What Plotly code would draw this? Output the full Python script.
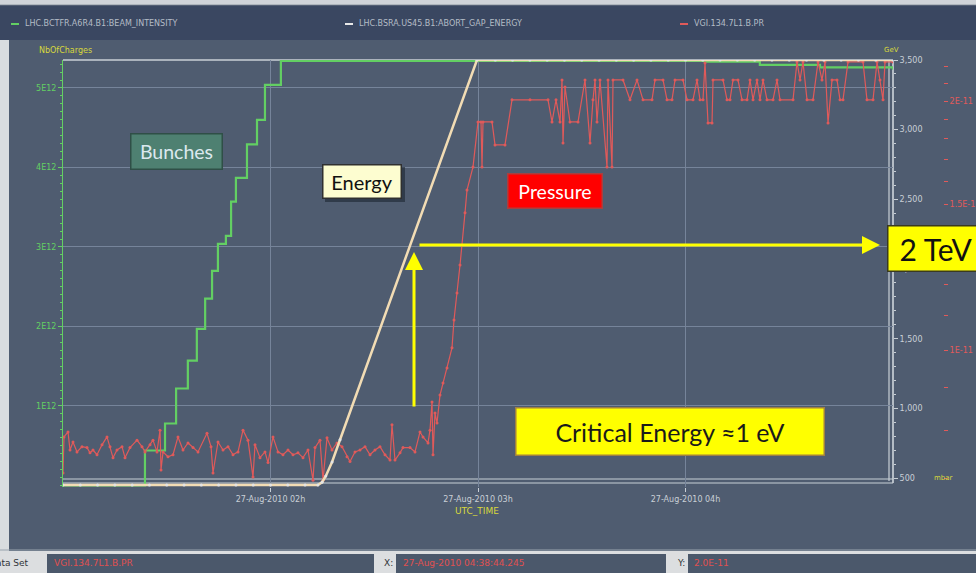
import pandas as pd
import plotly.graph_objects as go

# ---------------- data ----------------
START = "2010-08-27 01:00:00"
END = "2010-08-27 05:00:00"
x_tick_times = ["2010-08-27 02:00:00", "2010-08-27 03:00:00", "2010-08-27 04:00:00"]

# beam intensity (charges, units of 1E12), minutes after 01:00
intensity_min = [0, 23.7, 29.5, 32.7, 36.1, 38.7, 41.1, 43.1, 44.8, 47.1, 48.6,
                 50.0, 53.2, 56.1, 58.4, 63.0, 119.7, 185.6, 201.5, 218.9, 240.0]
intensity_e12 = [0, 0.44, 0.78, 1.22, 1.57, 1.97, 2.35, 2.70, 3.04, 3.14, 3.57,
                 3.87, 4.29, 4.60, 5.04, 5.34, 5.34, 5.33, 5.29, 5.26, 5.23]

# abort gap energy (GeV)
energy_min = [0, 5, 10, 15, 20, 25, 30, 35, 40, 45, 50, 55, 60, 65, 70,
              73.7, 74.9, 76.0, 77.8, 80.1, 119.7,
              125, 130, 135, 140, 145, 150, 155, 160, 165, 170, 175, 180,
              185, 190, 195, 200, 205, 210, 215, 220, 225, 230, 235, 240]
energy_gev = [450, 450, 450, 450, 450, 450, 450, 450, 450, 450, 450, 450, 450, 450, 450,
              450, 470, 515, 615, 775, 3500,
              3500, 3500, 3500, 3500, 3500, 3500, 3500, 3500, 3500, 3500, 3500, 3500,
              3500, 3500, 3500, 3500, 3500, 3500, 3500, 3500, 3500, 3500, 3500, 3500]

# vacuum pressure (units of 1E-11 mbar)
pressure_min = [
    0, 0.29, 1.45, 2.02, 2.89, 4.05, 5.49, 6.94, 7.81, 8.67,
    9.83, 11.28, 12.72, 13.59, 14.46, 15.61, 17.06, 17.93, 19.37, 21.40,
    22.84, 23.71, 25.16, 26.02, 27.18, 28.05, 28.34, 28.92, 30.36, 31.81,
    33.25, 34.70, 36.15, 37.59, 39.04, 41.64, 42.80, 43.37, 44.82, 46.27,
    47.71, 49.16, 50.60, 52.05, 53.49, 54.94, 55.52, 56.96, 58.41, 59.28,
    60.72, 62.17, 63.61, 65.06, 66.51, 67.95, 69.40, 70.84, 72.29, 72.87,
    74.31, 75.18, 76.34, 77.78, 79.23, 80.68, 82.12, 82.99, 84.43, 85.88,
    87.33, 88.77, 90.22, 91.66, 93.11, 94.56, 95.13, 96.00, 97.45, 98.31,
    100.34, 101.78, 103.23, 104.10, 105.54, 106.12, 106.70, 106.99, 107.57, 108.15,
    109.01, 109.88, 111.04, 112.48, 113.06, 113.93, 114.80, 116.24, 116.82, 118.56,
    120.00, 120.87, 121.16, 121.45, 124.05, 124.92, 127.81, 129.83, 135.04, 140.24,
    141.40, 142.56, 143.71, 144.29, 144.58, 145.16, 146.60, 148.92, 150.94, 152.39,
    153.25, 153.83, 154.41, 155.28, 157.30, 157.59, 158.75, 159.04, 161.93, 163.95,
    165.98, 167.71, 170.32, 171.18, 173.50, 174.65, 176.10, 176.97, 179.28, 180.44,
    182.17, 183.33, 184.20, 185.06, 185.64, 186.51, 187.67, 187.96, 190.85, 192.00,
    192.87, 193.74, 195.18, 196.34, 197.79, 198.65, 199.52, 200.68, 201.54, 202.41,
    203.57, 205.30, 206.46, 207.33, 211.09, 212.24, 213.11, 213.98, 215.14, 216.87,
    218.32, 219.47, 220.34, 221.21, 222.37, 223.81, 224.68, 225.54, 226.99, 231.33,
    232.48, 234.22, 235.38, 236.24, 237.11, 237.69, 240.00]
pressure_e11 = [
    0.710, 0.785, 0.796, 0.757, 0.774, 0.753, 0.764, 0.762, 0.751, 0.757,
    0.747, 0.768, 0.785, 0.764, 0.741, 0.757, 0.764, 0.741, 0.762, 0.778,
    0.764, 0.753, 0.768, 0.778, 0.753, 0.800, 0.716, 0.753, 0.743, 0.747,
    0.785, 0.757, 0.772, 0.762, 0.753, 0.793, 0.764, 0.710, 0.774, 0.757,
    0.764, 0.747, 0.753, 0.800, 0.778, 0.702, 0.768, 0.741, 0.753, 0.731,
    0.785, 0.753, 0.747, 0.757, 0.747, 0.751, 0.741, 0.757, 0.696, 0.762,
    0.778, 0.696, 0.783, 0.757, 0.772, 0.764, 0.743, 0.733, 0.753, 0.757,
    0.764, 0.747, 0.757, 0.764, 0.747, 0.736, 0.812, 0.736, 0.751, 0.762,
    0.762, 0.753, 0.796, 0.785, 0.772, 0.800, 0.865, 0.747, 0.839, 0.816,
    0.882, 0.912, 0.951, 1.006, 1.087, 1.172, 1.267, 1.465, 1.561, 1.665,
    1.887, 1.887, 1.665, 1.887, 1.887, 1.770, 1.770, 2.007, 2.007, 2.007,
    1.887, 2.007, 1.887, 2.121, 1.780, 2.080, 1.887, 1.887, 2.121, 1.780,
    2.007, 2.121, 1.887, 2.121, 1.665, 2.121, 1.665, 2.121, 2.121, 2.007,
    2.121, 2.007, 2.007, 2.121, 2.121, 2.007, 2.007, 2.121, 2.121, 2.007,
    2.007, 2.121, 2.007, 2.007, 2.224, 1.882, 1.882, 2.121, 2.121, 2.007,
    2.007, 2.121, 2.121, 2.007, 2.007, 2.121, 2.007, 2.121, 2.007, 2.121,
    2.007, 2.007, 2.121, 2.007, 2.007, 2.230, 2.121, 2.230, 2.007, 2.007,
    2.230, 2.121, 2.230, 1.882, 2.121, 2.121, 2.007, 2.007, 2.230, 2.230,
    2.007, 2.007, 2.230, 2.121, 2.007, 2.230, 2.230]

left_ticks_e12 = [1, 2, 3, 4, 5]
left_tick_text = ["1E12", "2E12", "3E12", "4E12", "5E12"]
gev_ticks = [500, 1000, 1500, 2000, 2500, 3000, 3500]
gev_tick_text = ["500", "1,000", "1,500", "2,000", "2,500", "3,000", "3,500"]
p_ticks_e11 = [0.7, 0.8, 0.9, 1.0, 1.1, 1.2, 1.3, 1.4, 1.5, 1.6, 1.7, 1.8, 1.9, 2.0, 2.1, 2.2]
p_tick_text = ["", "", "", "1E-11", "", "", "", "", "1.5E-11", "", "", "", "", "2E-11", "", ""]

series_names = ["LHC.BCTFR.A6R4.B1:BEAM_INTENSITY",
                "LHC.BSRA.US45.B1:ABORT_GAP_ENERGY",
                "VGI.134.7L1.B.PR"]

# ---------------- styling ----------------
W, H = 976, 573
ML, MR, MT, MB = 63, 33, 60, 86
PW, PH = W - ML - MR, H - MT - MB
XD = (893 - ML) / PW


def px(x):
    return (x - ML) / PW


def py(y):
    return (H - MB - y) / PH


BG = "#4f5c70"
GRID = "#76849a"
GREEN = "#63cf63"
BEIGE = "#f2dcb4"
RED = "#e05a5a"
LIGHT = "#c9cfd6"
YEL = "#d8d83c"
AXF = "DejaVu Sans, Liberation Sans, sans-serif"
BOXF = "Lato, Open Sans, sans-serif"

t0 = pd.Timestamp(START)


def to_time(mins):
    return t0 + pd.to_timedelta(mins, unit="min")


fig = go.Figure()
fig.add_trace(go.Scatter(
    x=to_time(intensity_min), y=[v * 1e12 for v in intensity_e12], yaxis="y",
    mode="lines", line=dict(color=GREEN, width=2.2, shape="hv"), name=series_names[0]))
fig.add_trace(go.Scatter(
    x=to_time(pressure_min), y=[v * 1e-11 for v in pressure_e11], yaxis="y2",
    mode="lines+markers", line=dict(color=RED, width=1.2),
    marker=dict(size=3, color=RED), name=series_names[2]))
fig.add_trace(go.Scatter(
    x=to_time(energy_min), y=energy_gev, yaxis="y3",
    mode="lines+markers", line=dict(color=BEIGE, width=2.5),
    marker=dict(size=3, color="#e4e4e4"), name=series_names[1]))

fig.update_layout(
    width=W, height=H,
    margin=dict(l=ML, r=MR, t=MT, b=MB, autoexpand=False),
    paper_bgcolor=BG, plot_bgcolor="rgba(0,0,0,0)", showlegend=False,
    xaxis=dict(domain=[0, XD], type="date", range=[START, END],
               tickmode="array", tickvals=x_tick_times, tickformat="%d-%b-%Y %Hh",
               tickfont=dict(family=AXF, size=8, color=LIGHT),
               ticks="outside", ticklen=4, tickcolor=LIGHT,
               showgrid=True, gridcolor=GRID, gridwidth=1,
               zeroline=False, showline=False),
    yaxis=dict(range=[-0.019e12, 5.352e12], tickmode="array",
               tickvals=[v * 1e12 for v in left_ticks_e12], ticktext=left_tick_text,
               tickfont=dict(family=AXF, size=8, color=GREEN),
               ticks="outside", ticklen=4, tickcolor=GREEN,
               showline=True, linecolor=GREEN, linewidth=1,
               showgrid=True, gridcolor=GRID, gridwidth=1, zeroline=False,
               minor=dict(tickmode="linear", tick0=0, dtick=1e11, ticks="outside",
                          ticklen=2, tickcolor=GREEN, showgrid=False)),
    yaxis2=dict(overlaying="y", anchor="free", position=1.0, side="right",
                type="log", range=[-11.16566, -10.64933], tickmode="array",
                tickvals=[v * 1e-11 for v in p_ticks_e11], ticktext=p_tick_text,
                tickfont=dict(family=AXF, size=8, color=RED),
                ticks="outside", ticklen=4, tickcolor=RED,
                showgrid=False, zeroline=False, showline=False),
    yaxis3=dict(overlaying="y", anchor="x", side="right",
                range=[435.9, 3500], tickmode="array",
                tickvals=gev_ticks, ticktext=gev_tick_text,
                tickfont=dict(family=AXF, size=8, color=LIGHT),
                ticks="outside", ticklen=4, tickcolor=LIGHT,
                showgrid=False, zeroline=False, showline=False,
                minor=dict(tickmode="linear", tick0=0, dtick=100, ticks="outside",
                           ticklen=2, tickcolor=LIGHT)),
)


def rect(x0, y0, x1, y1, fill, layer="below", lc=None, lw=0, opacity=1):
    fig.add_shape(type="rect", xref="paper", yref="paper",
                  x0=px(x0), x1=px(x1), y0=py(y1), y1=py(y0),
                  fillcolor=fill, line=dict(width=lw, color=lc or fill),
                  layer=layer, opacity=opacity)


def line(x0, y0, x1, y1, color, width=1, layer="below"):
    fig.add_shape(type="line", xref="paper", yref="paper",
                  x0=px(x0), x1=px(x1), y0=py(y0), y1=py(y1),
                  line=dict(color=color, width=width), layer=layer)


# header band
rect(0, 0, W, 5, "#cfd3d8")
line(0, 5, W, 5, "#8d96a0", 1)
rect(0, 5.5, W, 40, "#3a4761")

# light strip on the left edge of the panel
rect(0, 40, 9, 551, "#d9dcdf")

# plot frame
line(63, 60, 893, 60, "#c8cfd6", 1.5)
line(889, 60, 889, 481, "#c8cfd6", 1.2)
line(893, 60, 893, 483, "#d6dce2", 1.5)
line(63, 479, 893, 479, "#c8cfd6", 1.2)
line(63, 483, 893, 483, "#c8cfd6", 1.2)

# bottom status bar
line(0, 550, W, 550, "#9aa4ae", 1)
rect(0, 551, W, H, "#dcdee0")
rect(47, 554, 374, H, "#4b586b")
rect(396, 554, 666, H, "#4b586b")
rect(688, 554, W, H, "#4b586b")

# legend in header
legend_x = [11, 345, 680]
legend_c = [GREEN, "#e8e8e8", RED]
for lx, lc, nm in zip(legend_x, legend_c, series_names):
    line(lx, 24, lx + 8, 24, lc, 2, layer="above")
    fig.add_annotation(x=px(lx + 12), y=py(24), xref="paper", yref="paper",
                       text=nm, showarrow=False, xanchor="left", yanchor="middle",
                       font=dict(family=AXF, size=8, color="#b4bcc6"))


def label(text, x, y, color, size, anchor="left", fam=AXF):
    fig.add_annotation(x=px(x), y=py(y), xref="paper", yref="paper", text=text,
                       showarrow=False, xanchor=anchor, yanchor="middle",
                       font=dict(family=fam, size=size, color=color))


label("NbOfCharges", 37, 51, YEL, 8)
label("GeV", 882, 50, YEL, 7)
label("mbar", 932, 478, YEL, 7)
label("UTC_TIME", 477, 511, YEL, 9, anchor="center")

label("Data Set", 31, 563, "#303438", 9, anchor="right")
label("VGI.134.7L1.B.PR", 52, 563, "#e05050", 9)
label("X:", 382, 563, "#303438", 9)
label("27-Aug-2010 04:38:44.245", 401, 563, "#e05050", 9)
label("Y:", 675, 563, "#303438", 9)
label("2.0E-11", 692, 563, "#e05050", 9)

# shadow for the Energy box
rect(325, 167, 405, 202, "#1c2430", layer="above", opacity=0.6)


def box(text, cx, cy, w, h, bg, border, color, size, bw=1.5):
    fig.add_annotation(x=px(cx), y=py(cy), xref="paper", yref="paper", text=text,
                       showarrow=False, xanchor="center", yanchor="middle",
                       width=w, height=h, bgcolor=bg, bordercolor=border,
                       borderwidth=bw, borderpad=0,
                       font=dict(family=BOXF, size=size, color=color))


box("Bunches", 176.5, 151.5, 90, 34, "#4e8071", "#2f4f47", "#dbe8ee", 19.5)
box("Energy", 362, 181.5, 77, 32, "#fdfdd0", "#303030", "#111111", 20)
box("Pressure", 555, 191, 93, 33, "#ff0000", "#a84040", "#ffffff", 19.5)
box("2 TeV", 936, 248.5, 95, 44, "#ffff00", "#3a3a20", "#111111", 30)
box("Critical Energy \u22481 eV", 670, 431.5, 307, 46, "#ffff00", "#a08040", "#1a1a1a", 25)

# yellow arrows
fig.add_annotation(x=px(880), y=py(245), xref="paper", yref="paper", text="",
                   showarrow=True, ax=-462, ay=0, arrowhead=2, arrowsize=1.2,
                   arrowwidth=3, arrowcolor="#ffff00", standoff=0)
fig.add_annotation(x=px(414), y=py(252), xref="paper", yref="paper", text="",
                   showarrow=True, ax=0, ay=156, arrowhead=2, arrowsize=1.2,
                   arrowwidth=3, arrowcolor="#ffff00", standoff=0)

fig.write_html("out.html", config={"displayModeBar": False},
               post_script="document.body.style.margin='0';document.body.style.overflow='hidden';")
